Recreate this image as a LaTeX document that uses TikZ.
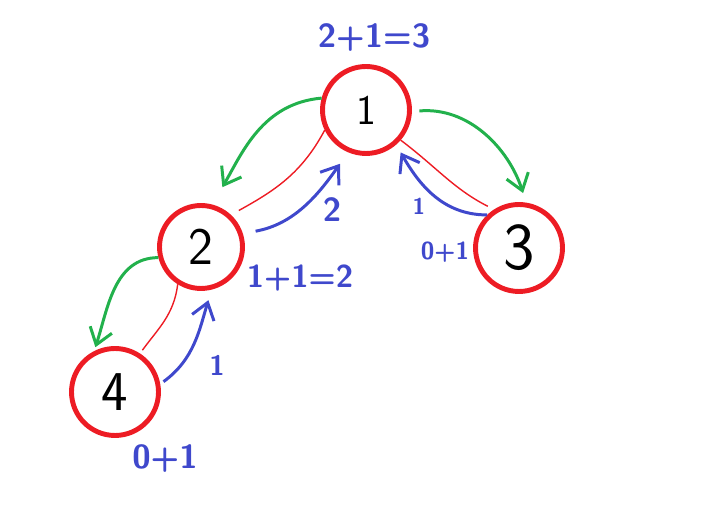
\documentclass[tikz,border=0pt]{standalone}
\usetikzlibrary{arrows.meta}

\definecolor{paintred}{RGB}{237,28,36}
\definecolor{paintgreen}{RGB}{34,177,76}
\definecolor{paintblue}{RGB}{63,72,204}

\begin{document}
\begin{tikzpicture}[x=0.02cm, y=0.02cm,
  vert/.style={circle, draw=paintred, line width=2.8pt, minimum size=1.74cm, inner sep=0pt},
  digit/.style={font=\sffamily\fontsize{#1}{#1}\selectfont},
  tree/.style={draw=paintred, line width=0.8pt},
  visit/.style={draw=paintgreen, line width=1.7pt, -{Straight Barb[length=9pt,width=13pt]}},
  ret/.style={draw=paintblue, line width=1.7pt, -{Straight Barb[length=9pt,width=13pt]}},
  val/.style={text=paintblue, inner sep=0pt, font=\sffamily\bfseries\fontsize{#1}{#1}\selectfont}
]

  \useasboundingbox (0,0) rectangle (706,530);

  % Vertices
  \node[vert, digit=24] (n1) at (366,420) {1};
  \node[vert, digit=30, minimum size=1.66cm] (n2) at (201,283) {2};
  \node[vert, digit=38] (n3) at (519,282) {3};
  \node[vert, digit=32] (n4) at (115,138) {4};

  % Tree edges
  \draw[tree, shorten >=0.18cm] (n1.206) to[out=242, in=29] (n2.47);
  \draw[tree, shorten >=0.14cm] (n1.-41) to[out=-37, in=153] (n3.123);
  \draw[tree, shorten >=0.08cm] (n2.238) to[out=263, in=54] (n4.57);

  % Going down
  \draw[visit, shorten >=0.4cm] (n1.165) to[out=185, in=60] (n2.75);
  \draw[visit, shorten <=0.15cm, shorten >=0.2cm] (n1.-2) to[out=5, in=108] (n3.81);
  \draw[visit, shorten >=0.08cm] (n2.194) to[out=180, in=72] (n4.117);

  % Going back up
  \draw[ret, shorten <=0.26cm, shorten >=0.28cm] (n2.18) to[out=10, in=235] (n1.247);
  \draw[ret, shorten >=0.18cm] (n3.134) to[out=180, in=-60] (n1.-49);
  \draw[ret, shorten <=0.08cm, shorten >=0.22cm] (n4.10) to[out=36, in=253] (n2.284);

  % Sizes
  \node[val=19] (s1) at (374,492) {2+1=3};
  \node[val=18] (s2) at (300,252) {1+1=2};
  \node[val=14] (s3) at (445,278) {0+1};
  \node[val=19] (s4) at (165,71) {0+1};
  \node[val=19] (r21) at (332,320) {2};
  \node[val=13] (r31) at (419,324) {1};
  \node[val=16] (r42) at (217,165) {1};

\end{tikzpicture}
\end{document}
